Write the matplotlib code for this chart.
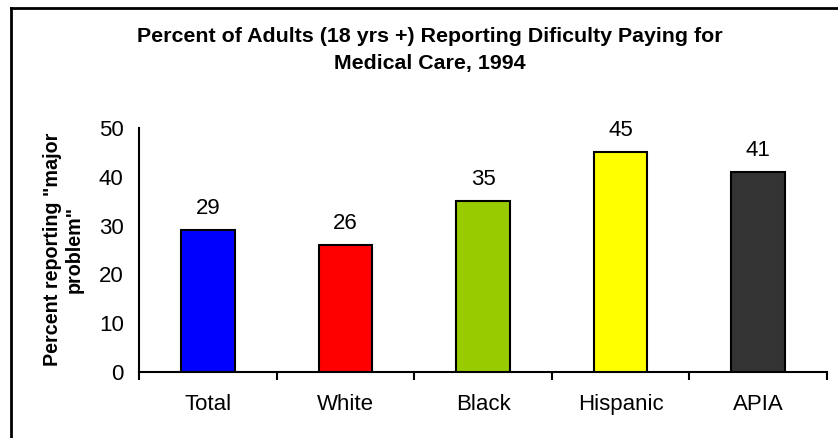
import matplotlib
matplotlib.use("Agg")
import matplotlib.pyplot as plt
from matplotlib.lines import Line2D

plt.rcParams['font.family'] = ['Liberation Sans', 'DejaVu Sans']

categories = ["Total", "White", "Black", "Hispanic", "APIA"]
values = [29, 26, 35, 45, 41]
colors = ["#0000FF", "#FF0000", "#99CC00", "#FFFF00", "#333333"]
yticks = [0, 10, 20, 30, 40, 50]

W, H = 838, 438
fig = plt.figure(figsize=(W / 100, H / 100), dpi=100)
ax = fig.add_axes([139 / W, 1 - 372 / H, (827 - 139) / W, (372 - 128) / H])

x = list(range(len(categories)))
bars = ax.bar(x, values, width=0.39, color=colors, edgecolor="black", linewidth=1.5, zorder=3)

for xi, v in zip(x, values):
    ax.annotate(str(v), (xi, v), xytext=(0, 8), textcoords="offset points",
                ha="center", va="bottom", fontsize=16)

ax.set_xlim(-0.5, len(categories) - 0.5)
ax.set_ylim(0, 50)
ax.set_yticks(yticks)
ax.set_xticks(x)
ax.set_xticklabels(categories, fontsize=16)
ax.set_xticks([i - 0.5 for i in range(len(categories) + 1)], minor=True)
ax.tick_params(axis="x", which="major", length=0, pad=16)
ax.tick_params(axis="x", which="minor", length=6, width=1.5, direction="out")
ax.tick_params(axis="y", length=0, pad=11, labelsize=16)

for side in ("top", "right"):
    ax.spines[side].set_visible(False)
for side in ("left", "bottom"):
    ax.spines[side].set_linewidth(1.5)

fig.text(430 / W, 1 - 50 / H,
         "Percent of Adults (18 yrs +) Reporting Dificulty Paying for\nMedical Care, 1994",
         ha="center", va="center", fontsize=15.4, fontweight="bold", linespacing=1.55)

fig.text(63 / W, 1 - 249 / H, "Percent reporting \"major\nproblem\"",
         ha="center", va="center", rotation=90, fontsize=14.2, fontweight="bold",
         multialignment="center")

# outer chart frame (left and top edges)
fig.add_artist(Line2D([11 / W, 11 / W], [0, 1 - 8 / H], transform=fig.transFigure,
                      color="black", linewidth=2))
fig.add_artist(Line2D([11 / W, 1], [1 - 8 / H, 1 - 8 / H], transform=fig.transFigure,
                      color="black", linewidth=2))

fig.savefig("out.png", dpi=100)
